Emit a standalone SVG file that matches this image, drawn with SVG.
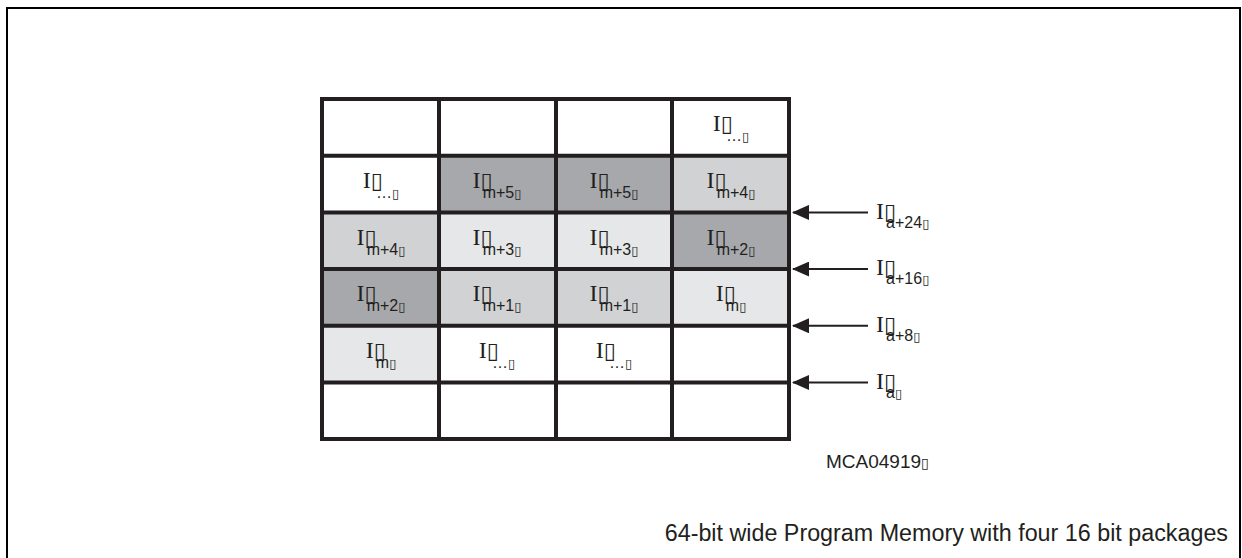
<svg xmlns="http://www.w3.org/2000/svg" width="1242" height="558" viewBox="0 0 1242 558">
  <style>
    .frame { fill: none; stroke: #000; stroke-width: 2; }
    .cell { stroke: none; }
    .dark { fill: #a7a8ab; }
    .mid { fill: #d1d2d4; }
    .light { fill: #e6e7e8; }
    .grid { fill: none; stroke: #231f20; stroke-width: 4; }
    .lbl { fill: #231f20; text-anchor: middle; }
    .albl { fill: #231f20; text-anchor: start; }
    .i { font-family: "Liberation Serif", serif; font-size: 24px; }
    .t { font-family: "DejaVu Sans", sans-serif; font-size: 22px; }
    .s { font-family: "Liberation Sans", Arial, sans-serif; font-size: 16px; }
    .ts { font-family: "DejaVu Sans", sans-serif; font-size: 13px; }
    .conn line { stroke: #231f20; stroke-width: 2; marker-end: url(#ah); }
    .cap { font-family: "Liberation Sans", Arial, sans-serif; fill: #231f20; }
  </style>
  <defs>
    <marker id="ah" markerWidth="17" markerHeight="15" refX="16" refY="7.5" orient="auto" markerUnits="userSpaceOnUse">
      <path d="M0,0 L17,7.5 L0,15 Z" fill="#231f20"/>
    </marker>
  </defs>

  <rect x="0" y="0" width="1242" height="558" fill="#fff"/>
  <path class="frame" d="M7,560 V8 H1240 V560"/>

  <!-- shaded cells: columns at 322/439/556/672/789, rows at 99 + 56.7n -->
  <g id="cells">
    <rect class="cell dark" x="439" y="155.7" width="117" height="56.7"/>
    <rect class="cell dark" x="556" y="155.7" width="116" height="56.7"/>
    <rect class="cell mid" x="672" y="155.7" width="117" height="56.7"/>

    <rect class="cell mid" x="322" y="212.4" width="117" height="56.7"/>
    <rect class="cell light" x="439" y="212.4" width="117" height="56.7"/>
    <rect class="cell light" x="556" y="212.4" width="116" height="56.7"/>
    <rect class="cell dark" x="672" y="212.4" width="117" height="56.7"/>

    <rect class="cell dark" x="322" y="269.1" width="117" height="56.7"/>
    <rect class="cell mid" x="439" y="269.1" width="117" height="56.7"/>
    <rect class="cell mid" x="556" y="269.1" width="116" height="56.7"/>
    <rect class="cell light" x="672" y="269.1" width="117" height="56.7"/>

    <rect class="cell light" x="322" y="325.8" width="117" height="56.7"/>
  </g>

  <g id="grid">
    <rect class="grid" x="322" y="99" width="467" height="340"/>
    <path class="grid" d="M439,99 V439 M556,99 V439 M672,99 V439 M322,155.7 H789 M322,212.4 H789 M322,269.1 H789 M322,325.8 H789 M322,382.5 H789"/>
  </g>

  <!-- cell labels -->
  <g id="labels">
    <text class="lbl" x="731" y="131"><tspan class="i">I</tspan><tspan class="t">▯</tspan><tspan class="s" dx="-7" dy="10">…</tspan><tspan class="ts">▯</tspan></text>

    <text class="lbl" x="381" y="188"><tspan class="i">I</tspan><tspan class="t">▯</tspan><tspan class="s" dx="-7" dy="10">…</tspan><tspan class="ts">▯</tspan></text>
    <text class="lbl" x="497" y="188"><tspan class="i">I</tspan><tspan class="t">▯</tspan><tspan class="s" dx="-10" dy="10">m+5</tspan><tspan class="ts">▯</tspan></text>
    <text class="lbl" x="614" y="188"><tspan class="i">I</tspan><tspan class="t">▯</tspan><tspan class="s" dx="-10" dy="10">m+5</tspan><tspan class="ts">▯</tspan></text>
    <text class="lbl" x="731" y="188"><tspan class="i">I</tspan><tspan class="t">▯</tspan><tspan class="s" dx="-10" dy="10">m+4</tspan><tspan class="ts">▯</tspan></text>

    <text class="lbl" x="381" y="244.7"><tspan class="i">I</tspan><tspan class="t">▯</tspan><tspan class="s" dx="-10" dy="10">m+4</tspan><tspan class="ts">▯</tspan></text>
    <text class="lbl" x="497" y="244.7"><tspan class="i">I</tspan><tspan class="t">▯</tspan><tspan class="s" dx="-10" dy="10">m+3</tspan><tspan class="ts">▯</tspan></text>
    <text class="lbl" x="614" y="244.7"><tspan class="i">I</tspan><tspan class="t">▯</tspan><tspan class="s" dx="-10" dy="10">m+3</tspan><tspan class="ts">▯</tspan></text>
    <text class="lbl" x="731" y="244.7"><tspan class="i">I</tspan><tspan class="t">▯</tspan><tspan class="s" dx="-10" dy="10">m+2</tspan><tspan class="ts">▯</tspan></text>

    <text class="lbl" x="381" y="301.4"><tspan class="i">I</tspan><tspan class="t">▯</tspan><tspan class="s" dx="-10" dy="10">m+2</tspan><tspan class="ts">▯</tspan></text>
    <text class="lbl" x="497" y="301.4"><tspan class="i">I</tspan><tspan class="t">▯</tspan><tspan class="s" dx="-10" dy="10">m+1</tspan><tspan class="ts">▯</tspan></text>
    <text class="lbl" x="614" y="301.4"><tspan class="i">I</tspan><tspan class="t">▯</tspan><tspan class="s" dx="-10" dy="10">m+1</tspan><tspan class="ts">▯</tspan></text>
    <text class="lbl" x="731" y="301.4"><tspan class="i">I</tspan><tspan class="t">▯</tspan><tspan class="s" dx="-10" dy="10">m</tspan><tspan class="ts">▯</tspan></text>

    <text class="lbl" x="381" y="358.1"><tspan class="i">I</tspan><tspan class="t">▯</tspan><tspan class="s" dx="-10" dy="10">m</tspan><tspan class="ts">▯</tspan></text>
    <text class="lbl" x="497" y="358.1"><tspan class="i">I</tspan><tspan class="t">▯</tspan><tspan class="s" dx="-7" dy="10">…</tspan><tspan class="ts">▯</tspan></text>
    <text class="lbl" x="614" y="358.1"><tspan class="i">I</tspan><tspan class="t">▯</tspan><tspan class="s" dx="-7" dy="10">…</tspan><tspan class="ts">▯</tspan></text>
  </g>

  <!-- address pointers -->
  <g id="connectors" class="conn">
    <line x1="868" y1="212.4" x2="793" y2="212.4"/>
    <line x1="868" y1="269.1" x2="793" y2="269.1"/>
    <line x1="868" y1="325.8" x2="793" y2="325.8"/>
    <line x1="868" y1="382.5" x2="793" y2="382.5"/>
  </g>

  <g id="address-labels">
    <text class="albl" x="876" y="218.5"><tspan class="i">I</tspan><tspan class="t">▯</tspan><tspan class="s" dx="-10" dy="9">a+24</tspan><tspan class="ts">▯</tspan></text>
    <text class="albl" x="876" y="275.2"><tspan class="i">I</tspan><tspan class="t">▯</tspan><tspan class="s" dx="-10" dy="9">a+16</tspan><tspan class="ts">▯</tspan></text>
    <text class="albl" x="876" y="331.9"><tspan class="i">I</tspan><tspan class="t">▯</tspan><tspan class="s" dx="-10" dy="9">a+8</tspan><tspan class="ts">▯</tspan></text>
    <text class="albl" x="876" y="388.6"><tspan class="i">I</tspan><tspan class="t">▯</tspan><tspan class="s" dx="-10" dy="9">a</tspan><tspan class="ts">▯</tspan></text>
  </g>

  <text class="cap" x="826" y="468" font-size="19">MCA04919<tspan font-family="DejaVu Sans" font-size="14">▯</tspan></text>
  <text class="cap" x="1228" y="541" font-size="23.3" text-anchor="end">64-bit wide Program Memory with four 16 bit packages</text>
</svg>
